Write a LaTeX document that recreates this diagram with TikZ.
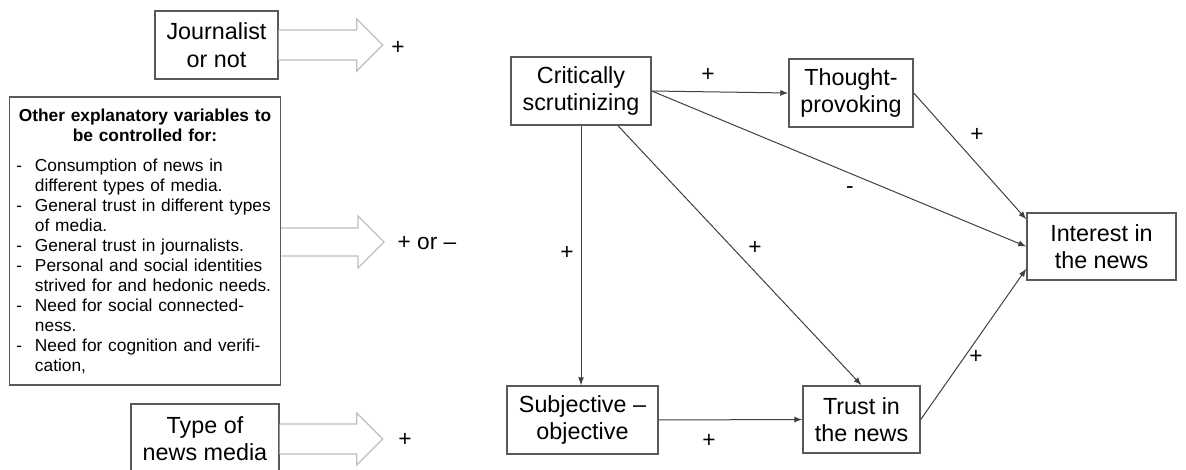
\documentclass[tikz,border=0pt]{standalone}
\usepackage{fontspec}
\setmainfont{Liberation Sans}
\usetikzlibrary{arrows.meta,calc}

\tikzset{
  box/.style={draw=black!65, line width=1.1pt, fill=white, align=center, inner sep=0pt,
    font=\fontsize{17.5}{20.5}\selectfont},
  listbox/.style={draw=black!65, line width=1.1pt, fill=white, align=left, inner xsep=5pt,
    inner ysep=0pt, text width=193pt, font=\fontsize{13}{15}\selectfont},
  lbl/.style={font=\fontsize{17}{20}\selectfont, inner sep=0pt},
  link/.style={draw=black!75, line width=0.75pt, -{Latex[length=6pt,width=4.5pt]}},
  hollow/.style={draw=black!25, line width=0.9pt, fill=white},
}
\newcommand{\itm}[2]{\makebox[14pt][l]{-}#1\\\hspace*{14pt}#2}
\newcommand{\itmone}[1]{\makebox[14pt][l]{-}#1}

\begin{document}
\begin{tikzpicture}[x=0.75pt,y=0.75pt]
\useasboundingbox (0,0) rectangle (1186,-470);
\clip (0,0) rectangle (1186,-470);

% left column: control variables
\node[box, minimum width=92.25pt, minimum height=51pt] (jour) at (216.5,-45) {Journalist\\or not};
\node[listbox, minimum height=216pt] (other) at (145,-241) {%
  {\centering\bfseries Other explanatory variables to\\be controlled for:\par}
  \vspace{7.5pt}
  \itm{Consumption of news in}{different types of media.}\\
  \itm{General trust in different types}{of media.}\\
  \itmone{General trust in journalists.}\\
  \itm{Personal and social identities}{strived for and hedonic needs.}\\
  \itm{Need for social connected-}{ness.}\\
  \itm{Need for cognition and verifi-}{cation,}};
\node[box, minimum width=111pt, minimum height=52.5pt] (type) at (205,-439) {Type of\\news media};

% hollow arrows
\draw[hollow] ($(jour.east)+(0,15)$) -- ++(78,0) -- ++(0,11) -- ++(26,-26) -- ++(-26,-26) -- ++(0,11) -- ++(-78,0);
\draw[hollow] ($(other.east)+(0,13)$) -- ++(77,0) -- ++(0,12) -- ++(26,-26) -- ++(-26,-26) -- ++(0,12) -- ++(-77,0);
\draw[hollow] ($(type.east)+(0,15)$) -- ++(77,0) -- ++(0,11) -- ++(26,-26) -- ++(-26,-26) -- ++(0,11) -- ++(-77,0);
\node[lbl] (pj) at (398,-48) {+};
\node[lbl] (po) at (427,-243) {+ or –};
\node[lbl] (pt) at (405,-440) {+};

% right part: model
\node[box, minimum width=105pt, minimum height=51pt] (crit) at (581,-91) {Critically\\scrutinizing};
\node[box, minimum width=93pt, minimum height=51pt] (thought) at (851,-93) {Thought-\\provoking};
\node[box, minimum width=113.25pt, minimum height=51pt] (subj) at (582.5,-420) {Subjective –\\objective};
\node[box, minimum width=87.75pt, minimum height=50.25pt] (trust) at (861.5,-419.5) {Trust in\\the news};
\node[box, minimum width=111.75pt, minimum height=50.25pt] (interest) at (1101.5,-246.5) {Interest in\\the news};

\draw[link] (crit.east) -- (thought.west);
\draw[link] (crit.east) -- (interest.west);
\draw[link] (crit.south) -- (crit.south |- subj.north);
\draw[link] ($(crit.south)+(37,0)$) -- (trust.north);
\draw[link] (subj.east) -- (trust.west);
\draw[link] (thought.east) -- ($(interest.north west)+(0,-7)$);
\draw[link] (trust.east) -- ($(interest.south west)+(0,12)$);

% signs
\node[lbl] (s1) at (708,-75) {+};
\node[lbl] (s2) at (850,-190) {-};
\node[lbl] (s3) at (567,-253) {+};
\node[lbl] (s4) at (755,-248) {+};
\node[lbl] (s5) at (977,-135) {+};
\node[lbl] (s6) at (709,-441) {+};
\node[lbl] (s7) at (976,-357) {+};
\end{tikzpicture}
\end{document}
